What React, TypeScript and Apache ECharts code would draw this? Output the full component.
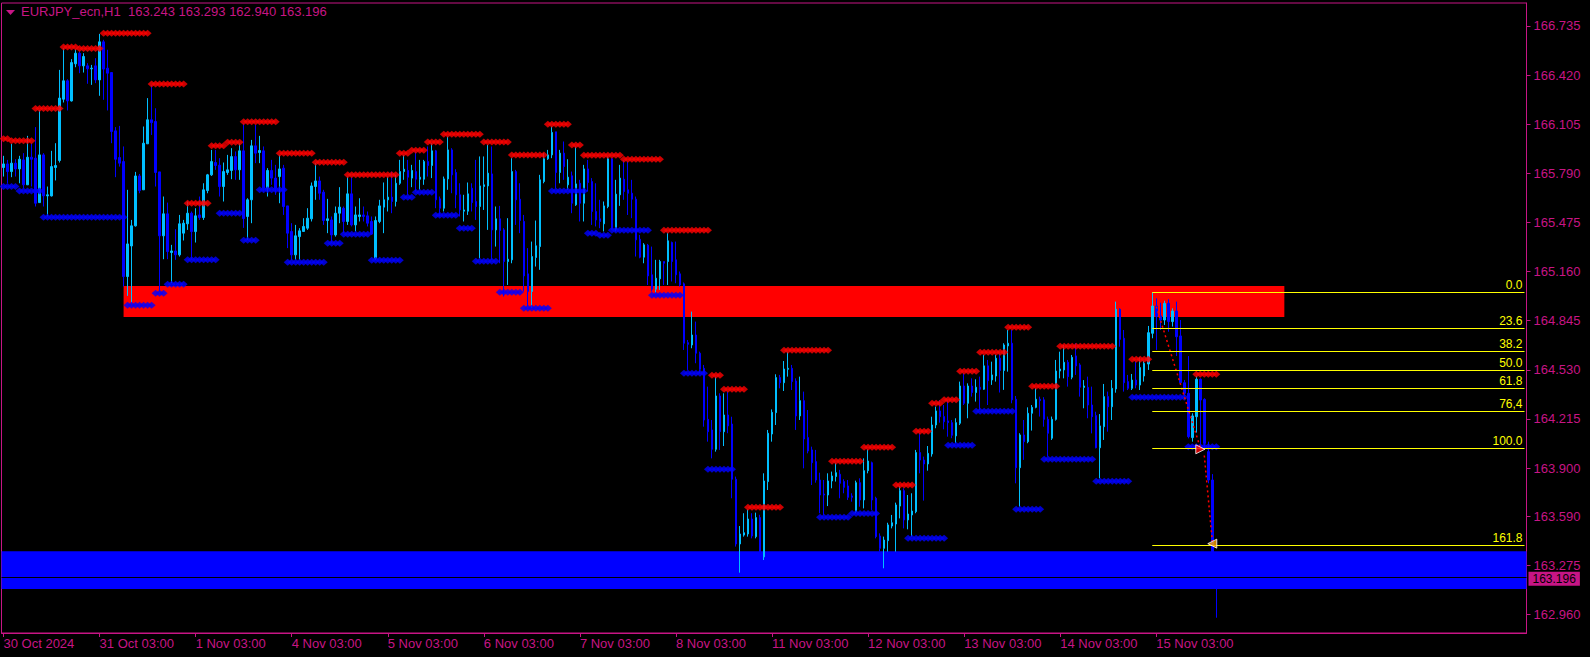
import React, { useEffect, useRef } from "react";
import * as echarts from "echarts";

const FG = "#C71585";
const BULL = "#00BFFF";
const BEAR = "#0000FF";
const FONT = "'Liberation Sans', Arial, sans-serif";

const symbolName = "EURJPY_ecn";
const timeframe = "H1";
const dayLabels = ["30 Oct 2024", "31 Oct 03:00", "1 Nov 03:00", "4 Nov 03:00", "5 Nov 03:00", "6 Nov 03:00", "7 Nov 03:00", "8 Nov 03:00", "11 Nov 03:00", "12 Nov 03:00", "13 Nov 03:00", "14 Nov 03:00", "15 Nov 03:00"];
const barsPerLabel = 24;
const totalSlots = 381;

const yTicks = [166.735, 166.42, 166.105, 165.79, 165.475, 165.16, 164.845, 164.53, 164.215, 163.9, 163.59, 163.275, 162.96];

const opens = [
165.827,165.850,165.801,165.855,165.818,165.876,165.716,165.893,165.887,165.602,
165.908,165.645,165.645,165.827,165.872,166.265,166.383,166.254,166.492,166.560,
166.479,166.479,166.460,166.479,166.389,166.633,166.464,166.436,166.062,165.891,
165.865,165.128,165.324,165.453,165.773,165.684,165.979,166.133,166.122,165.799,
165.389,165.530,165.282,165.292,165.267,165.406,165.466,165.534,165.416,165.523,
165.506,165.679,165.780,165.859,165.842,165.705,165.795,165.808,165.897,165.812,
165.934,165.513,165.620,165.966,165.923,165.934,165.694,165.808,165.759,165.769,
165.823,165.581,165.417,165.267,165.384,165.417,165.438,165.498,165.705,165.741,
165.669,165.487,165.491,165.395,165.534,165.566,165.481,165.658,165.459,165.513,
165.523,165.517,165.481,165.245,165.481,165.573,165.620,165.637,165.609,165.726,
165.801,165.808,165.759,165.801,165.752,165.752,165.865,165.840,165.934,165.626,
165.566,165.754,165.940,165.795,165.652,165.547,165.547,165.694,165.609,165.577,
165.705,165.709,165.786,165.427,165.498,165.427,165.224,165.235,165.801,165.624,
165.481,165.145,165.032,165.250,165.320,165.737,165.883,165.908,166.056,165.795,
165.919,165.716,165.774,165.588,165.726,165.598,165.818,165.737,165.545,165.498,
165.466,165.577,165.883,165.431,165.652,165.752,165.684,165.662,165.624,165.367,
165.252,165.329,165.139,165.047,165.113,165.224,165.224,165.346,165.235,165.145,
165.081,164.704,164.689,164.753,164.636,164.539,164.212,164.144,164.020,164.362,
164.133,164.240,164.182,163.828,163.413,163.470,163.477,163.573,163.460,163.582,
163.330,163.813,164.118,164.255,164.480,164.447,164.533,164.539,164.458,164.234,
164.332,164.095,164.016,163.941,163.823,163.733,163.727,163.817,163.845,163.860,
163.813,163.785,163.721,163.620,163.806,163.695,163.883,163.934,163.706,163.464,
163.385,163.434,163.528,163.541,163.656,163.755,163.567,163.599,163.620,163.999,
163.951,163.926,163.990,164.176,164.266,164.230,164.202,164.191,164.106,164.187,
164.426,164.315,164.426,164.384,164.418,164.405,164.555,164.465,164.490,164.604,
164.525,164.683,164.700,164.341,163.902,164.112,164.069,164.251,164.289,164.341,
164.337,164.212,164.091,164.212,164.522,164.529,164.578,164.482,164.619,164.561,
164.417,164.417,164.304,164.236,164.030,164.165,164.358,164.293,164.407,164.918,
164.732,164.454,164.411,164.464,164.432,164.490,164.567,164.764,164.939,164.875,
164.849,164.956,164.839,164.907,164.747,164.447,164.379,164.095,164.229,164.469,
164.340,164.005,163.823,163.243];

const closes = [
165.850,165.801,165.855,165.818,165.880,165.716,165.893,165.880,165.598,165.908,
165.645,165.652,165.833,165.840,166.272,166.383,166.254,166.500,166.560,166.479,
166.539,166.460,166.464,166.389,166.633,166.458,166.432,166.058,165.880,165.855,
165.128,165.337,165.453,165.773,165.679,165.983,166.133,166.115,165.795,165.389,
165.530,165.288,165.292,165.267,165.466,165.470,165.534,165.416,165.517,165.506,
165.684,165.780,165.865,165.840,165.705,165.801,165.812,165.897,165.812,165.934,
165.500,165.620,165.966,165.919,165.936,165.694,165.808,165.759,165.694,165.818,
165.577,165.406,165.267,165.389,165.421,165.449,165.502,165.709,165.741,165.662,
165.487,165.498,165.395,165.534,165.573,165.481,165.658,165.459,165.523,165.523,
165.513,165.470,165.400,165.487,165.581,165.620,165.637,165.609,165.726,165.801,
165.816,165.765,165.808,165.752,165.765,165.865,165.840,165.934,165.620,165.566,
165.754,165.940,165.780,165.652,165.555,165.555,165.658,165.602,165.577,165.709,
165.716,165.791,165.427,165.498,165.423,165.224,165.239,165.801,165.620,165.487,
165.132,165.032,165.256,165.325,165.748,165.883,165.908,166.052,165.795,165.919,
165.833,165.765,165.598,165.722,165.598,165.818,165.731,165.545,165.491,165.481,
165.581,165.883,165.431,165.656,165.759,165.673,165.662,165.624,165.363,165.252,
165.331,165.132,165.047,165.117,165.224,165.213,165.357,165.224,165.139,165.074,
164.700,164.693,164.753,164.636,164.533,164.208,164.133,164.020,164.362,164.133,
164.240,164.170,163.828,163.413,163.477,163.485,163.573,163.464,163.582,163.320,
163.817,164.123,164.257,164.480,164.447,164.535,164.539,164.454,164.234,164.332,
164.086,164.009,163.934,163.823,163.727,163.727,163.817,163.849,163.870,163.802,
163.776,163.712,163.712,163.806,163.695,163.883,163.945,163.695,163.460,163.385,
163.438,163.535,163.549,163.663,163.755,163.567,163.605,163.624,163.999,163.951,
163.926,163.994,164.176,164.266,164.229,164.197,164.191,164.110,164.191,164.426,
164.315,164.426,164.384,164.418,164.405,164.555,164.460,164.497,164.604,164.525,
164.689,164.700,164.337,163.902,164.112,164.069,164.251,164.289,164.341,164.332,
164.212,164.123,164.212,164.522,164.535,164.578,164.486,164.610,164.555,164.418,
164.426,164.304,164.229,164.030,164.170,164.358,164.293,164.411,164.918,164.725,
164.447,164.411,164.464,164.432,164.544,164.571,164.768,164.939,164.871,164.849,
164.956,164.839,164.907,164.742,164.447,164.379,164.101,164.234,164.469,164.336,
164.058,163.823,163.250,163.196];

const lows = [
165.769,165.726,165.765,165.769,165.726,165.694,165.716,165.705,165.577,165.602,
165.577,165.513,165.641,165.744,165.859,166.244,166.193,166.250,166.470,166.432,
166.436,166.364,166.357,166.368,166.287,166.261,166.193,165.983,165.765,165.833,
165.064,165.004,164.957,165.448,165.662,165.684,165.979,166.036,165.705,165.032,
165.239,165.239,165.085,165.235,165.256,165.359,165.427,165.235,165.346,165.491,
165.491,165.662,165.773,165.812,165.641,165.609,165.780,165.752,165.748,165.748,
165.440,165.363,165.470,165.855,165.855,165.673,165.641,165.716,165.652,165.598,
165.523,165.310,165.235,165.235,165.235,165.417,165.427,165.481,165.620,165.620,
165.459,165.406,165.342,165.384,165.470,165.406,165.459,165.449,165.417,165.481,
165.481,165.449,165.395,165.235,165.470,165.406,165.545,165.534,165.577,165.716,
165.748,165.652,165.701,165.673,165.684,165.716,165.769,165.759,165.566,165.513,
165.545,165.684,165.662,165.566,165.513,165.481,165.523,165.545,165.491,165.245,
165.555,165.427,165.235,165.320,165.213,165.000,165.074,165.213,165.459,165.406,
165.032,164.935,164.925,165.192,165.171,165.726,165.876,165.887,165.694,165.726,
165.748,165.684,165.534,165.581,165.481,165.481,165.673,165.459,165.449,165.438,
165.417,165.566,165.427,165.417,165.581,165.620,165.523,165.502,165.256,165.245,
165.213,165.074,165.032,165.021,165.042,165.074,165.074,165.096,165.085,165.064,
164.657,164.529,164.668,164.572,164.507,164.165,164.069,163.962,164.005,164.016,
164.041,164.123,163.706,163.396,163.229,163.460,163.460,163.449,163.449,163.284,
163.310,163.759,164.069,164.176,164.411,164.394,164.486,164.400,164.144,164.208,
163.898,163.994,163.791,163.806,163.610,163.599,163.656,163.770,163.813,163.706,
163.738,163.695,163.684,163.610,163.652,163.641,163.866,163.631,163.449,163.364,
163.257,163.364,163.513,163.364,163.577,163.513,163.507,163.460,163.610,163.866,
163.691,163.883,163.973,164.155,164.191,164.148,164.101,164.091,164.059,164.176,
164.304,164.219,164.358,164.326,164.272,164.401,164.304,164.433,164.454,164.384,
164.401,164.518,164.315,163.802,163.652,163.952,164.059,164.140,164.283,164.230,
164.165,163.973,164.080,164.204,164.475,164.475,164.422,164.469,164.497,164.358,
164.283,164.219,164.122,164.026,163.834,164.080,164.133,164.208,164.383,164.678,
164.390,164.400,164.400,164.411,164.400,164.454,164.529,164.732,164.657,164.785,
164.817,164.774,164.807,164.618,164.432,164.358,164.090,164.069,164.127,164.037,
164.028,163.802,163.220,162.940];

const highs = [
165.902,165.876,165.979,165.880,165.902,165.919,166.030,165.983,166.086,166.197,
165.919,165.705,165.934,165.983,166.453,166.592,166.393,166.522,166.586,166.571,
166.560,166.496,166.485,166.528,166.684,166.646,166.582,166.436,166.086,166.094,
165.962,165.684,165.491,165.799,165.786,166.090,166.272,166.357,166.207,165.799,
165.641,165.602,165.331,165.431,165.523,165.491,165.609,165.545,165.566,165.641,
165.726,165.786,165.940,165.940,165.887,165.859,165.908,165.951,165.930,165.983,
166.111,165.630,166.004,166.101,166.030,165.962,165.823,165.876,165.844,165.908,
165.844,165.581,165.470,165.459,165.438,165.502,165.566,165.731,165.855,165.769,
165.684,165.626,165.513,165.577,165.701,165.577,165.769,165.765,165.577,165.630,
165.577,165.545,165.513,165.513,165.620,165.731,165.769,165.801,165.780,165.876,
165.908,165.876,165.844,165.930,165.876,165.876,165.962,165.983,165.940,165.641,
165.769,166.026,165.951,165.816,165.726,165.652,165.731,165.726,165.876,165.898,
165.898,165.972,165.962,165.577,165.581,165.438,165.502,165.887,165.812,165.726,
165.523,165.310,165.352,165.487,165.780,165.919,165.940,166.090,166.056,165.940,
165.994,165.880,165.801,165.962,165.748,165.844,165.876,165.759,165.726,165.620,
165.609,165.898,165.887,165.748,165.844,165.876,165.865,165.748,165.641,165.395,
165.342,165.337,165.320,165.235,165.235,165.224,165.406,165.352,165.352,165.160,
165.090,164.721,164.903,164.839,164.646,164.561,164.422,164.208,164.486,164.379,
164.379,164.390,164.229,163.845,163.528,163.610,163.635,163.610,163.614,163.600,
163.866,164.144,164.276,164.501,164.497,164.586,164.646,164.561,164.475,164.486,
164.390,164.272,164.037,164.016,163.870,163.823,163.866,163.877,163.934,163.888,
163.828,163.823,163.738,163.819,163.834,163.962,164.020,163.941,163.716,163.481,
163.460,163.549,163.599,163.678,163.785,163.770,163.727,163.738,164.016,164.127,
163.973,164.041,164.229,164.294,164.336,164.304,164.337,164.208,164.219,164.454,
164.508,164.443,164.475,164.469,164.486,164.625,164.593,164.582,164.625,164.636,
164.700,164.785,164.785,164.362,164.123,164.208,164.289,164.304,164.411,164.358,
164.354,164.230,164.230,164.593,164.646,164.689,164.593,164.625,164.700,164.572,
164.464,164.486,164.422,164.261,164.246,164.439,164.390,164.464,164.967,164.924,
164.785,164.497,164.503,164.582,164.610,164.588,164.811,165.027,164.988,164.960,
164.973,164.982,164.924,164.967,164.849,164.464,164.618,164.251,164.490,164.475,
164.347,164.069,163.861,163.293];

// [first bar, last bar, price]
const redLevels: [number, number, number][] = [
  [0, 1, 166.012], [2, 7, 165.998], [8, 14, 166.205], [15, 18, 166.6], [19, 24, 166.59],
  [25, 36, 166.688], [37, 45, 166.362], [46, 51, 165.598], [52, 55, 165.966], [56, 59, 165.989],
  [60, 68, 166.12], [69, 77, 165.919], [78, 85, 165.861], [86, 98, 165.78], [99, 101, 165.919],
  [102, 105, 165.938], [106, 109, 165.99], [110, 119, 166.041], [120, 126, 165.99], [127, 135, 165.908],
  [136, 141, 166.105], [142, 144, 165.972], [145, 154, 165.905], [155, 164, 165.88], [165, 176, 165.425],
  [177, 179, 164.495], [180, 185, 164.405], [186, 194, 163.648], [195, 206, 164.655], [207, 214, 163.943],
  [215, 222, 164.033], [223, 227, 163.791], [228, 231, 164.135], [232, 234, 164.315], [235, 238, 164.337],
  [239, 243, 164.52], [244, 250, 164.642], [251, 256, 164.803], [257, 263, 164.424], [264, 277, 164.681],
  [282, 286, 164.598], [298, 303, 164.501],
];

const blueLevels: [number, number, number][] = [
  [0, 3, 165.705], [4, 9, 165.677], [10, 30, 165.508], [31, 37, 164.944], [38, 40, 165.021],
  [41, 45, 165.079], [46, 53, 165.235], [54, 59, 165.534], [60, 63, 165.361], [64, 70, 165.684],
  [71, 80, 165.22], [81, 84, 165.342], [85, 91, 165.399], [92, 99, 165.233], [100, 102, 165.637],
  [103, 107, 165.669], [108, 113, 165.521], [114, 117, 165.438], [118, 123, 165.226], [124, 129, 165.027],
  [130, 136, 164.925], [137, 145, 165.677], [146, 148, 165.406], [149, 151, 165.393], [152, 161, 165.425],
  [162, 169, 165.008], [170, 175, 164.507], [176, 182, 163.892], [204, 211, 163.584], [212, 218, 163.609],
  [226, 235, 163.449], [236, 242, 164.046], [243, 252, 164.264], [253, 259, 163.635], [260, 272, 163.956],
  [273, 281, 163.815], [282, 295, 164.354], [296, 303, 164.037],
];

const supplyZone = { startBar: 30, endBar: 320, top: 165.067, bottom: 164.868 };
const demandZone = { top: 163.367, bottom: 163.124 };
const bidPrice = 163.196;

const fibStartBar = 287;
const fibEndBar = 380;
const fibLabels = ["0.0", "23.6", "38.2", "50.0", "61.8", "76,4", "100.0", "161.8"];
const fibPrices = [165.027, 164.796, 164.648, 164.527, 164.411, 164.266, 164.028, 163.404];

const zigzagA: [number, number][] = [[288, 164.935], [299, 164.03]];
const zigzagB: [number, number][] = [[300, 163.98], [302, 163.43]];
const arrowDown = { bar: 299, price: 164.02 };
const arrowTarget = { bar: 302, price: 163.415 };

export default function App() {
  const ref = useRef<HTMLDivElement>(null);
  useEffect(() => {
    document.body.style.margin = "0";
    document.body.style.background = "#000";
    const chart = echarts.init(ref.current!, null, { renderer: "svg" });
    const n = Math.min(opens.length, closes.length, lows.length, highs.length);
    const categories = Array.from({ length: totalSlots }, (_, i) =>
      i % barsPerLabel === 0 && i / barsPerLabel < dayLabels.length ? dayLabels[i / barsPerLabel] : ""
    );
    const candleData = Array.from({ length: n }, (_, i) => [opens[i], closes[i], lows[i], highs[i]]);
    const expand = (list: [number, number, number][]) =>
      list.flatMap(([s, e, p]) => Array.from({ length: e - s + 1 }, (_, k) => [s + k, p]));
    const last = n - 1;
    const header = `${symbolName},${timeframe}  ${opens[last].toFixed(3)} ${highs[last].toFixed(3)} ${lows[last].toFixed(3)} ${closes[last].toFixed(3)}`;
    const showIdx = (_i: number, v: string) => v !== "";

    const fibLines = fibPrices.map((p, k) => [
      {
        xAxis: fibStartBar,
        yAxis: p,
        lineStyle: { color: "#FFFF00", width: 1, type: "solid" },
        label: {
          show: true,
          position: "insideEndTop",
          formatter: fibLabels[k],
          color: "#FFFF00",
          fontSize: 12,
          fontFamily: FONT,
          distance: [2, 1],
        },
      },
      { xAxis: fibEndBar, yAxis: p },
    ]);

    chart.setOption({
      animation: false,
      backgroundColor: "#000",
      grid: { left: 1.5, right: 63.5, top: 3, bottom: 24, show: true, borderColor: FG, borderWidth: 1, backgroundColor: "transparent" },
      graphic: [
        { type: "polygon", shape: { points: [[6, 10], [15, 10], [10.5, 15]] }, style: { fill: FG } },
        { type: "text", left: 21, top: 5, style: { text: header, fill: FG, fontSize: 13, fontFamily: FONT } },
      ],
      xAxis: {
        type: "category",
        data: categories,
        boundaryGap: true,
        axisLine: { show: true, lineStyle: { color: FG } },
        axisTick: { show: true, alignWithLabel: true, interval: showIdx, length: 4, lineStyle: { color: FG } },
        axisLabel: { interval: showIdx, color: FG, fontSize: 13, fontFamily: FONT, align: "left", margin: 4 },
        splitLine: { show: false },
      },
      yAxis: {
        type: "value",
        position: "right",
        min: 162.842,
        max: 166.882,
        axisLine: { show: true, lineStyle: { color: FG } },
        axisTick: { show: true, customValues: yTicks, length: 4, lineStyle: { color: FG } },
        axisLabel: { customValues: yTicks, formatter: (v: number) => v.toFixed(3), color: FG, fontSize: 13, lineHeight: 11, fontFamily: FONT, margin: 7 },
        splitLine: { show: false },
      },
      series: [
        {
          type: "candlestick",
          data: candleData,
          barWidth: 2,
          z: 2,
          itemStyle: { color: BULL, color0: BEAR, borderColor: BULL, borderColor0: BEAR, borderWidth: 1 },
          markArea: {
            silent: true,
            data: [
              [
                { xAxis: supplyZone.startBar, yAxis: supplyZone.top, itemStyle: { color: "#FF0000", opacity: 1 } },
                { xAxis: supplyZone.endBar, yAxis: supplyZone.bottom },
              ],
              [
                { yAxis: demandZone.top, itemStyle: { color: "#0000FF", opacity: 1 } },
                { yAxis: demandZone.bottom },
              ],
            ],
          },
          markLine: {
            silent: true,
            symbol: ["none", "none"],
            data: [
              {
                yAxis: bidPrice,
                lineStyle: { color: "#000", width: 1, type: "solid" },
                label: {
                  show: true,
                  position: "end",
                  formatter: bidPrice.toFixed(3),
                  backgroundColor: FG,
                  color: "#000",
                  padding: [1, 4, 1, 4],
                  fontSize: 12,
                  lineHeight: 12,
                  fontFamily: FONT,
                  distance: 2,
                  offset: [0, 1.5],
                },
              },
              ...fibLines,
            ],
          },
        },
        {
          type: "scatter",
          data: expand(redLevels),
          symbol: "diamond",
          symbolSize: [8, 7],
          itemStyle: { color: "#FF0000" },
          z: 3,
          silent: true,
        },
        {
          type: "scatter",
          data: expand(blueLevels),
          symbol: "diamond",
          symbolSize: [8, 7],
          itemStyle: { color: "#0000FF" },
          z: 3,
          silent: true,
        },
        {
          type: "line",
          data: zigzagA,
          showSymbol: false,
          lineStyle: { color: "#FF0000", width: 1.5, type: [2, 3] },
          z: 4,
          silent: true,
        },
        {
          type: "line",
          data: zigzagB,
          showSymbol: false,
          lineStyle: { color: "#FF0000", width: 1.5, type: [2, 3] },
          z: 4,
          silent: true,
        },
        {
          type: "scatter",
          symbol: "triangle",
          symbolSize: 9,
          z: 5,
          silent: true,
          data: [
            { value: [arrowDown.bar, arrowDown.price], symbolRotate: -90, itemStyle: { color: "#FF0000", borderColor: "#fff", borderWidth: 1 } },
            { value: [arrowTarget.bar, arrowTarget.price], symbolRotate: 90, itemStyle: { color: "#FFA500", borderColor: "#fff", borderWidth: 1 } },
          ],
        },
      ],
    });
    return () => chart.dispose();
  }, []);
  return (
    <div
      ref={ref}
      style={{ position: "fixed", left: 0, top: 0, width: 1590, height: 657, background: "#000" }}
    />
  );
}
